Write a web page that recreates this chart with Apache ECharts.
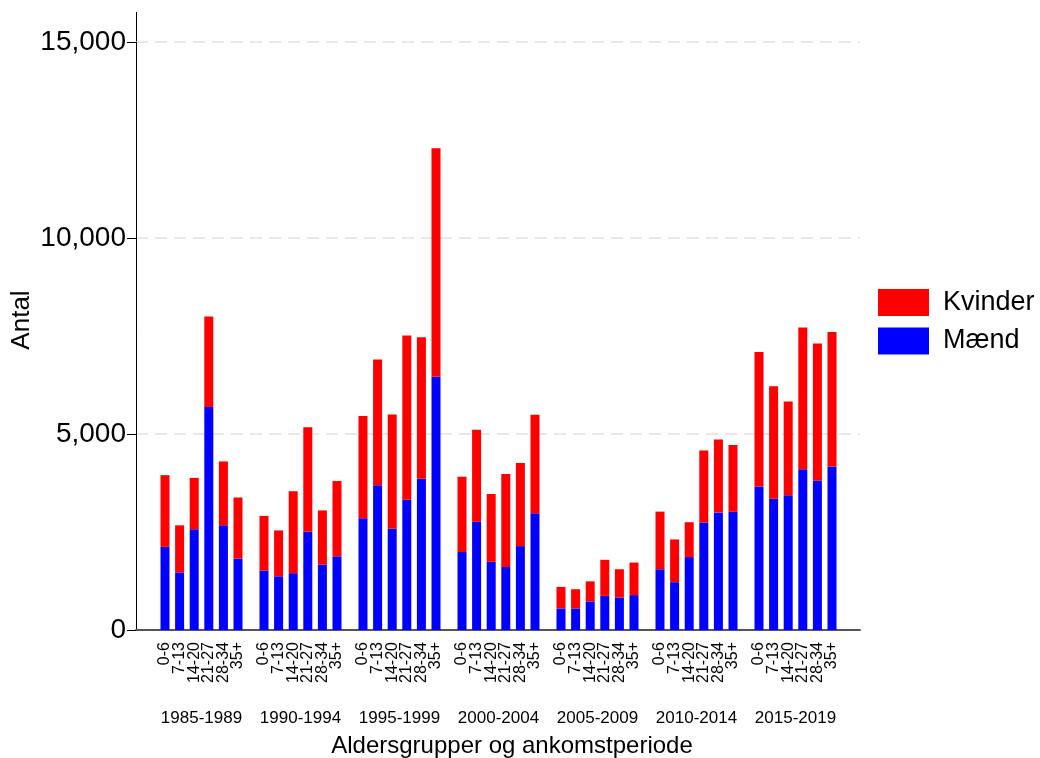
<!DOCTYPE html>
<html>
<head>
<meta charset="utf-8">
<script src="https://cdn.jsdelivr.net/npm/echarts@6/dist/echarts.min.js"></script>
<style>html,body{margin:0;padding:0;background:#fff}#c{width:1040px;height:758px}</style>
</head>
<body>
<div id="c"></div>
<script>
const periods = ['1985-1989','1990-1994','1995-1999','2000-2004','2005-2009','2010-2014','2015-2019'];
const ages = ['0-6','7-13','14-20','21-27','28-34','35+'];
const maend = [
  [2120,1470,2570,5690,2670,1820],
  [1520,1370,1450,2510,1670,1880],
  [2850,3690,2580,3320,3860,6460],
  [1990,2760,1740,1610,2140,2980],
  [550,550,730,870,830,890],
  [1550,1220,1860,2740,3000,3020],
  [3660,3350,3440,4100,3810,4170]
];
const kvinder = [
  [1830,1200,1310,2310,1630,1560],
  [1390,1170,2090,2660,1380,1920],
  [2610,3210,2920,4190,3610,5830],
  [1920,2350,1730,2370,2120,2510],
  [550,490,510,920,720,830],
  [1470,1090,890,1840,1860,1700],
  [3430,2870,2390,3620,3500,3430]
];
const yTicks = [0,5000,10000,15000];

const FONT = 'Liberation Sans, Arial, sans-serif';
const chart = echarts.init(document.getElementById('c'), null, {renderer:'canvas'});

const grids = [{left:136, right:180, top:42, bottom:128, outerBoundsMode:'none', containLabel:false}];
const xAxes = [{
  gridIndex:0, type:'value', min:0, max:1,
  axisLine:{show:true, onZero:false, lineStyle:{color:'#555', width:2}},
  axisTick:{show:false}, axisLabel:{show:false}, splitLine:{show:false},
  name:'Aldersgrupper og ankomstperiode', nameLocation:'middle', nameGap:104,
  nameTextStyle:{fontFamily:FONT, fontSize:24, color:'#000', padding:[0,0,0,28]}
}];
const yAxes = [{
  gridIndex:0, type:'value', min:yTicks[0], max:yTicks[yTicks.length-1], interval:5000,
  axisLine:{show:true, lineStyle:{color:'#000', width:1}},
  axisTick:{show:true, length:9, lineStyle:{color:'#000'}},
  axisLabel:{fontFamily:FONT, fontSize:28, color:'#000', margin:10},
  splitLine:{show:true, lineStyle:{color:'#e8e8e8', width:2, type:[12,7]}}
}];
const series = [];
const slotW = 14.6, groupStep = 99, firstLeft = 157.7;
periods.forEach((p, i) => {
  const gi = i + 1;
  grids.push({left: firstLeft + i*groupStep, width: slotW*ages.length, top:42, bottom:128, outerBoundsMode:'none', containLabel:false});
  xAxes.push({
    gridIndex:gi, type:'category', data:ages,
    axisLine:{show:false}, axisTick:{show:false},
    axisLabel:{interval:0, rotate:90, fontFamily:FONT, fontSize:16, color:'#000', margin:12},
    name:p, nameLocation:'middle', nameGap:80,
    nameTextStyle:{fontFamily:FONT, fontSize:17, color:'#000'}
  });
  yAxes.push({gridIndex:gi, type:'value', min:0, max:15000, show:false});
  series.push({
    type:'bar', name:'Mænd', xAxisIndex:gi, yAxisIndex:gi, stack:'s'+i,
    data:maend[i], barWidth:9, itemStyle:{color:'#0000ff'}
  });
  series.push({
    type:'bar', name:'Kvinder', xAxisIndex:gi, yAxisIndex:gi, stack:'s'+i,
    data:kvinder[i], barWidth:9, itemStyle:{color:'#ff0000'}
  });
});

chart.setOption({
  animation:false,
  backgroundColor:'#fff',
  grid:grids, xAxis:xAxes, yAxis:yAxes, series:series,
  legend:{
    orient:'vertical', left:873, top:284, itemWidth:51, itemHeight:27, itemGap:11.5,
    icon:'rect', data:['Kvinder','Mænd'],
    textStyle:{fontFamily:FONT, fontSize:27, color:'#000', padding:[0,0,0,9]}
  },
  graphic:[
    {type:'line', shape:{x1:136.5, y1:12, x2:136.5, y2:42}, style:{stroke:'#000', lineWidth:1}},
    {type:'text', x:22, y:320, rotation:Math.PI/2,
     style:{text:'Antal', fontFamily:FONT, fontSize:26, fill:'#000', textAlign:'center', textVerticalAlign:'middle'}}
  ]
});
</script>
</body>
</html>
